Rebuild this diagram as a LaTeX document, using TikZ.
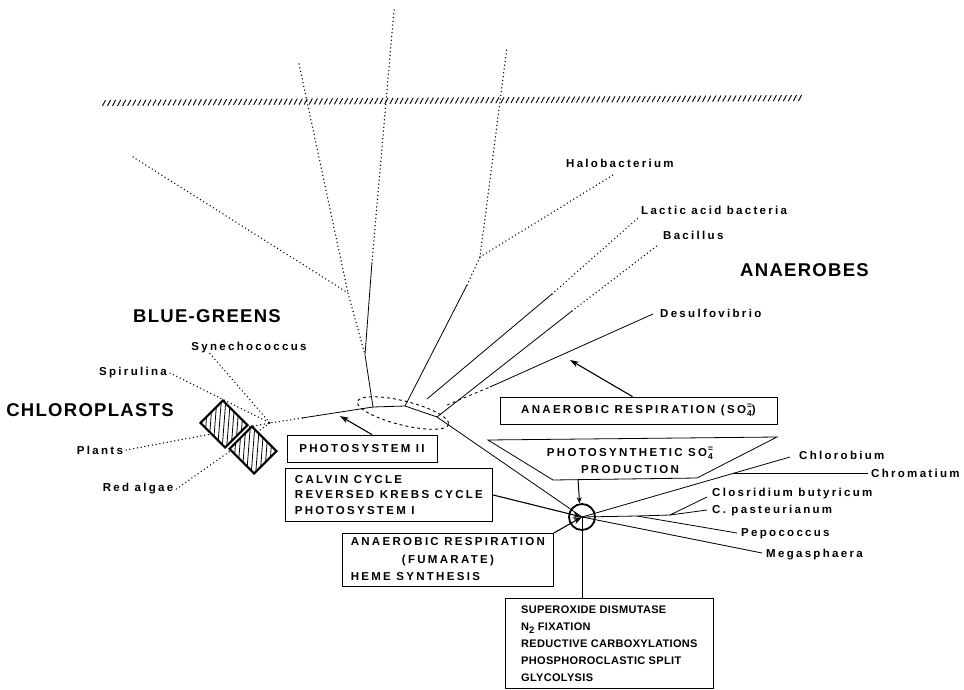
\documentclass[tikz,border=0pt]{standalone}
\usepackage{fontspec}
\usetikzlibrary{calc, arrows.meta}
\newfontfamily\taxfont[LetterSpace=20]{Liberation Sans}
\newfontfamily\boxfont[LetterSpace=3]{Liberation Sans}
\newfontfamily\grpfont[LetterSpace=7]{Liberation Sans}
\newcommand{\sofour}{SO\kern1pt\rlap{\raisebox{-0.45ex}{\fontsize{8.5}{8.5}\selectfont 4}}\raisebox{0.8ex}{\fontsize{8.5}{8.5}\selectfont =}}
\tikzset{
    taxon/.style={
        font=\fontsize{11.5}{14}\selectfont\taxfont\bfseries, inner sep=0pt
    },
    group/.style={
        font=\fontsize{18.5}{20}\selectfont\grpfont\bfseries, inner sep=0pt
    },
    fnbox/.style={
        draw, line width=0.8pt, inner sep=0pt,
        font=\fontsize{11.5}{16}\selectfont\taxfont\bfseries
    },
    branch/.style={
        line width=0.8pt
    },
    ghost/.style={
        line width=1.5pt, dash pattern=on 0pt off 3.8pt, line cap=round
    },
    ptr/.style={
        -{Stealth[length=9pt,width=6pt]}, line width=1.1pt
    },
    cladebox/.style={
        draw, line width=1.4pt, fill=white, minimum width=34, minimum height=31, rotate=-45
    }
}
\begin{document}
\begin{tikzpicture}[x=1pt, y=-1pt]
\useasboundingbox (0,0) rectangle (964,690);

% ground line
\coordinate (gL) at (104,103);
\coordinate (gR) at (800,98);
\foreach \i in {0,...,138}
    \draw[line width=0.9pt] ($(gL)!\i/138!(gR)$) ++(-1.6,3) -- ++(3.2,-6);

% junctions of the tree
\coordinate (P) at (270,423);
\coordinate (PS) at (302,418);
\coordinate (N1) at (373,407);
\coordinate (N2) at (405,406);
\coordinate (N3) at (437,417);
\coordinate (M) at (365,355);
\coordinate (BS) at (372,262);
\coordinate (Btop) at (394,10);
\coordinate (J1) at (348,293);
\coordinate (Atop) at (299,64);
\coordinate (UL) at (133,157);
\coordinate (HS) at (467,285);
\coordinate (J3) at (480,257);
\coordinate (Ctop) at (507,47);
\coordinate (LS) at (427,399);
\coordinate (LM) at (552,294);
\coordinate (BM) at (572,311);
\coordinate (DS) at (447,405);
\coordinate (DM) at (490,387);
\coordinate (C) at (582,517);
\coordinate (K) at (733,473);
\coordinate (J5) at (637,516);
\coordinate (J6) at (670,515);

% tips
\coordinate (haloE) at (613,175);
\coordinate (lacE) at (638,218);
\coordinate (bacE) at (658,245);
\coordinate (desE) at (653,314);
\coordinate (chlE) at (790,457);
\coordinate (chrE) at (868,473);
\coordinate (cbE) at (707,497);
\coordinate (cpE) at (707,510);
\coordinate (pepE) at (737,533);
\coordinate (megE) at (762,553);

% labels
\node[group] (bg) at (207,316) {BLUE-GREENS};
\node[group] (chloro) at (90,410) {CHLOROPLASTS};
\node[group, anchor=west] (anaer) at (740,270) {ANAEROBES};
\node[taxon] (syn) at (249,348) {Synechococcus};
\node[taxon] (spir) at (133,373) {Spirulina};
\node[taxon] (plants) at (100,450) {Plants};
\node[taxon] (redalg) at (138,489) {Red algae};
\node[taxon, anchor=west] (halo) at (566,163) {Halobacterium};
\node[taxon, anchor=west] (lactic) at (641,210) {Lactic acid bacteria};
\node[taxon, anchor=west] (bac) at (663,235) {Bacillus};
\node[taxon, anchor=west] (desulf) at (660,313) {Desulfovibrio};
\node[taxon, anchor=west] (chlorob) at (799,455) {Chlorobium};
\node[taxon, anchor=west] (chromat) at (871,473) {Chromatium};
\node[taxon, anchor=west] (clbut) at (712,494) {Closridium butyricum};
\node[taxon, anchor=west] (clpast) at (712,511) {C. pasteurianum};
\node[taxon, anchor=west] (pepo) at (741,534) {Pepococcus};
\node[taxon, anchor=west] (mega) at (766,555) {Megasphaera};

% upper branches
\draw[ghost] (UL) -- (J1) -- (M);
\draw[ghost] (Atop) -- (J1);
\draw[ghost] (Btop) -- (BS);
\draw[branch] (BS) -- (M) -- (N1) -- (N2) -- (N3) -- (C);
\draw[branch] (N1) -- (PS);
\draw[ghost] (PS) -- (P);
\draw[branch] (N2) -- (HS);
\draw[ghost] (HS) -- (J3) -- (Ctop);
\draw[ghost] (J3) -- (haloE);
\draw[branch] (LS) -- (LM);
\draw[ghost] (LM) -- (lacE);
\draw[branch] (N3) -- (BM);
\draw[ghost] (BM) -- (bacE);
\draw[branch, dashed] (DS) -- (DM);
\draw[branch] (DM) -- (desE);
\draw[dashed, line width=0.9pt] (403,413) ellipse [x radius=47, y radius=12, rotate=-14];

% blue-greens and chloroplasts
\draw[ghost] ([xshift=-39]syn.south) -- (P);
\draw[ghost] ([xshift=3]spir.east) -- (P);
\draw[ghost] ([xshift=3]plants.east) -- (P);
\draw[ghost] ([xshift=3]redalg.east) -- (P);
\node[cladebox] (plast1) at (224,424) {};
\node[cladebox] (plast2) at (253,450) {};
\foreach \b in {plast1,plast2}{
    \begin{scope}
        \clip (\b.north west) -- (\b.north east) -- (\b.south east) -- (\b.south west) -- cycle;
        \foreach \k in {-31.5,-27,...,31.5}
            \draw[line width=0.8pt] ($(\b.center)+(\k-2,26)$) -- ($(\b.center)+(\k+2,-26)$);
    \end{scope}
    \draw[line width=1.4pt, line join=miter] (\b.north west) -- (\b.north east) -- (\b.south east) -- (\b.south west) -- cycle;
}

% lower branches
\draw[branch] (C) -- (chlE);
\draw[branch] (K) -- (chrE);
\draw[branch] (C) -- (J5) -- (J6) -- (cbE);
\draw[branch] (J6) -- (cpE);
\draw[branch] (J5) -- (pepE);
\draw[branch] (C) -- (megE);

% function boxes
\node[fnbox, minimum width=150, minimum height=27] (ps2) at (362,448.5) {PHOTOSYSTEM II};
\node[fnbox, anchor=north west, minimum width=207, minimum height=53, align=left, font=\fontsize{11.5}{15.5}\selectfont\taxfont\bfseries] (calvin) at (285,468)
    {CALVIN CYCLE\\REVERSED KREBS CYCLE\\PHOTOSYSTEM I};
\node[fnbox, anchor=north west, minimum width=211, minimum height=52, font=\fontsize{11.5}{17.5}\selectfont\taxfont\bfseries] (fumbox) at (342,533)
    {\begin{tabular}{@{}l@{}}ANAEROBIC RESPIRATION\\ \multicolumn{1}{@{}c@{}}{(FUMARATE)}\\ HEME SYNTHESIS\end{tabular}};
\node[fnbox, minimum width=277, minimum height=27] (so4box) at (638.5,410.5) {ANAEROBIC RESPIRATION (\sofour)};
\node[fnbox, anchor=north west, minimum width=208, minimum height=90, align=left, font=\fontsize{11}{17}\selectfont\boxfont\bfseries] (bbox) at (505,598)
    {SUPEROXIDE DISMUTASE\\N\raisebox{-3pt}{\fontsize{9.5}{9.5}\selectfont 2} FIXATION\\REDUCTIVE CARBOXYLATIONS\\PHOSPHOROCLASTIC SPLIT\\GLYCOLYSIS};

\coordinate (tzA) at (488,440);
\coordinate (tzB) at (777,437);
\coordinate (tzC) at (697,478);
\coordinate (tzD) at (553,480);
\draw[line width=0.8pt] (tzA) -- (tzB) -- (tzC) -- (tzD) -- cycle;
\node[taxon, align=center, font=\fontsize{11.5}{17}\selectfont\taxfont\bfseries] (psp) at (630,460.5) {PHOTOSYNTHETIC \sofour\\PRODUCTION};
\coordinate (tzP) at (578,479);

% the junction circle
\node[circle, draw, line width=1.8pt, minimum size=26, inner sep=0pt] (circ) at (C) {};
\draw[branch] (C) -- (C |- bbox.north);
\draw[-{Stealth[length=6pt,width=5pt]}, line width=1pt] (tzP) -- (circ.100);
\draw[ptr] (calvin.east) -- (C);
\draw[ptr] (fumbox.north east) -- (C);

% pointers
\coordinate (ps2T) at (340,416);
\coordinate (so4T) at (570,360);
\draw[ptr] ([xshift=10]ps2.north) -- (ps2T);
\draw[ptr] ([xshift=-6]so4box.north) -- (so4T);
\end{tikzpicture}
\end{document}
